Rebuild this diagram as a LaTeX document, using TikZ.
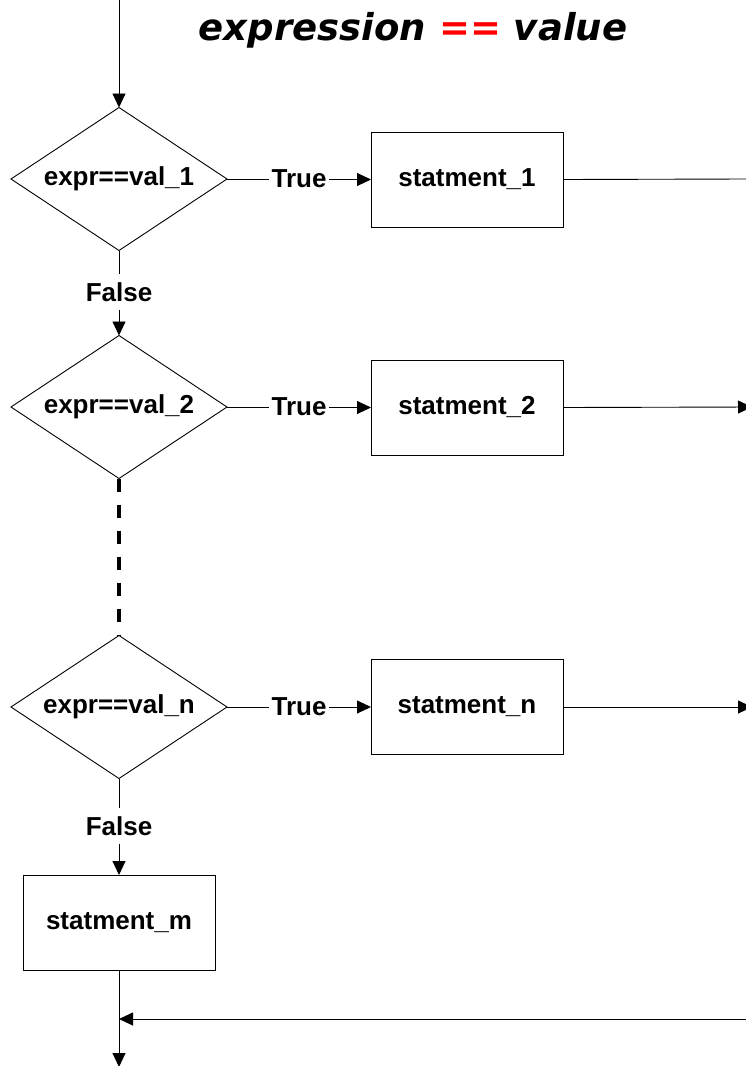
\documentclass[tikz,border=0pt]{standalone}
\usepackage{fontspec}
\setmainfont{Liberation Sans}
\newfontfamily\titlefont{DejaVu Sans}
\usetikzlibrary{shapes.geometric,arrows.meta}
\begin{document}
\begin{tikzpicture}[x=1pt,y=-1pt,
  line width=0.9pt,
  every node/.style={font=\fontsize{26}{30}\selectfont\bfseries},
  test/.style={draw,shape=diamond,aspect=1.5,inner sep=0pt,outer sep=0pt,
    minimum width=216pt,minimum height=143pt},
  stmt/.style={draw,rectangle,inner sep=0pt,outer sep=0pt,
    minimum width=192pt,minimum height=95pt},
  branch/.style={inner xsep=2pt,inner ysep=8pt,text height=18.5pt,text depth=0pt},
  flow/.style={-{Triangle[length=14pt,width=13pt]}},
  skip/.style={line width=3.2pt,dash pattern=on 13pt off 13pt}]
\useasboundingbox (0,0) rectangle (746,1066);

% heading
\node[anchor=base,font=\titlefont\fontsize{37}{42}\selectfont\bfseries\itshape]
  (title) at (413,40) {expression \textcolor{red}{==} value};

% decisions
\node[test] (d1) at (119,179) {expr==val\_1};
\node[test] (d2) at (119,407) {expr==val\_2};
\node[test] (dn) at (119,707) {expr==val\_n};

% statements
\node[stmt] (s1) at (467,179.5) {statment\_1};
\node[stmt] (s2) at (467,407.5) {statment\_2};
\node[stmt] (sn) at (467,707) {statment\_n};
\node[stmt] (sm) at (119,922.5) {statment\_m};

% branch labels
\node[branch] (t1) at (299,178) {True};
\node[branch] (t2) at (299,406) {True};
\node[branch] (tn) at (299,706) {True};
\node[branch] (f1) at (119,292) {False};
\node[branch] (fn) at (119,826) {False};

% free ends
\coordinate (entry) at (119,0);
\coordinate (r1) at (746,179);
\coordinate (r2) at (752,407);
\coordinate (rn) at (752,707);
\coordinate (back) at (746,1019);
\coordinate (join) at (119,1019);
\coordinate (exit) at (119,1067);

% connectors
\draw[flow] (entry) -- (d1.north);
\draw (d1.east) -- (d1.east -| t1.west);
\draw[flow] (t1.east |- s1.west) -- (s1.west);
\draw (s1.east) -- (r1);
\draw (d1.south) -- (f1.north);
\draw[flow] (f1.south) -- (d2.north);
\draw (d2.east) -- (d2.east -| t2.west);
\draw[flow] (t2.east |- s2.west) -- (s2.west);
\draw[flow] (s2.east) -- (r2);
\draw[skip] (d2.south) -- (dn.north);
\draw (dn.east) -- (dn.east -| tn.west);
\draw[flow] (tn.east |- sn.west) -- (sn.west);
\draw[flow] (sn.east) -- (rn);
\draw (dn.south) -- (fn.north);
\draw[flow] (fn.south) -- (sm.north);
\draw[flow] (sm.south) -- (exit);
\draw[flow] (back) -- (join);
\end{tikzpicture}
\end{document}
